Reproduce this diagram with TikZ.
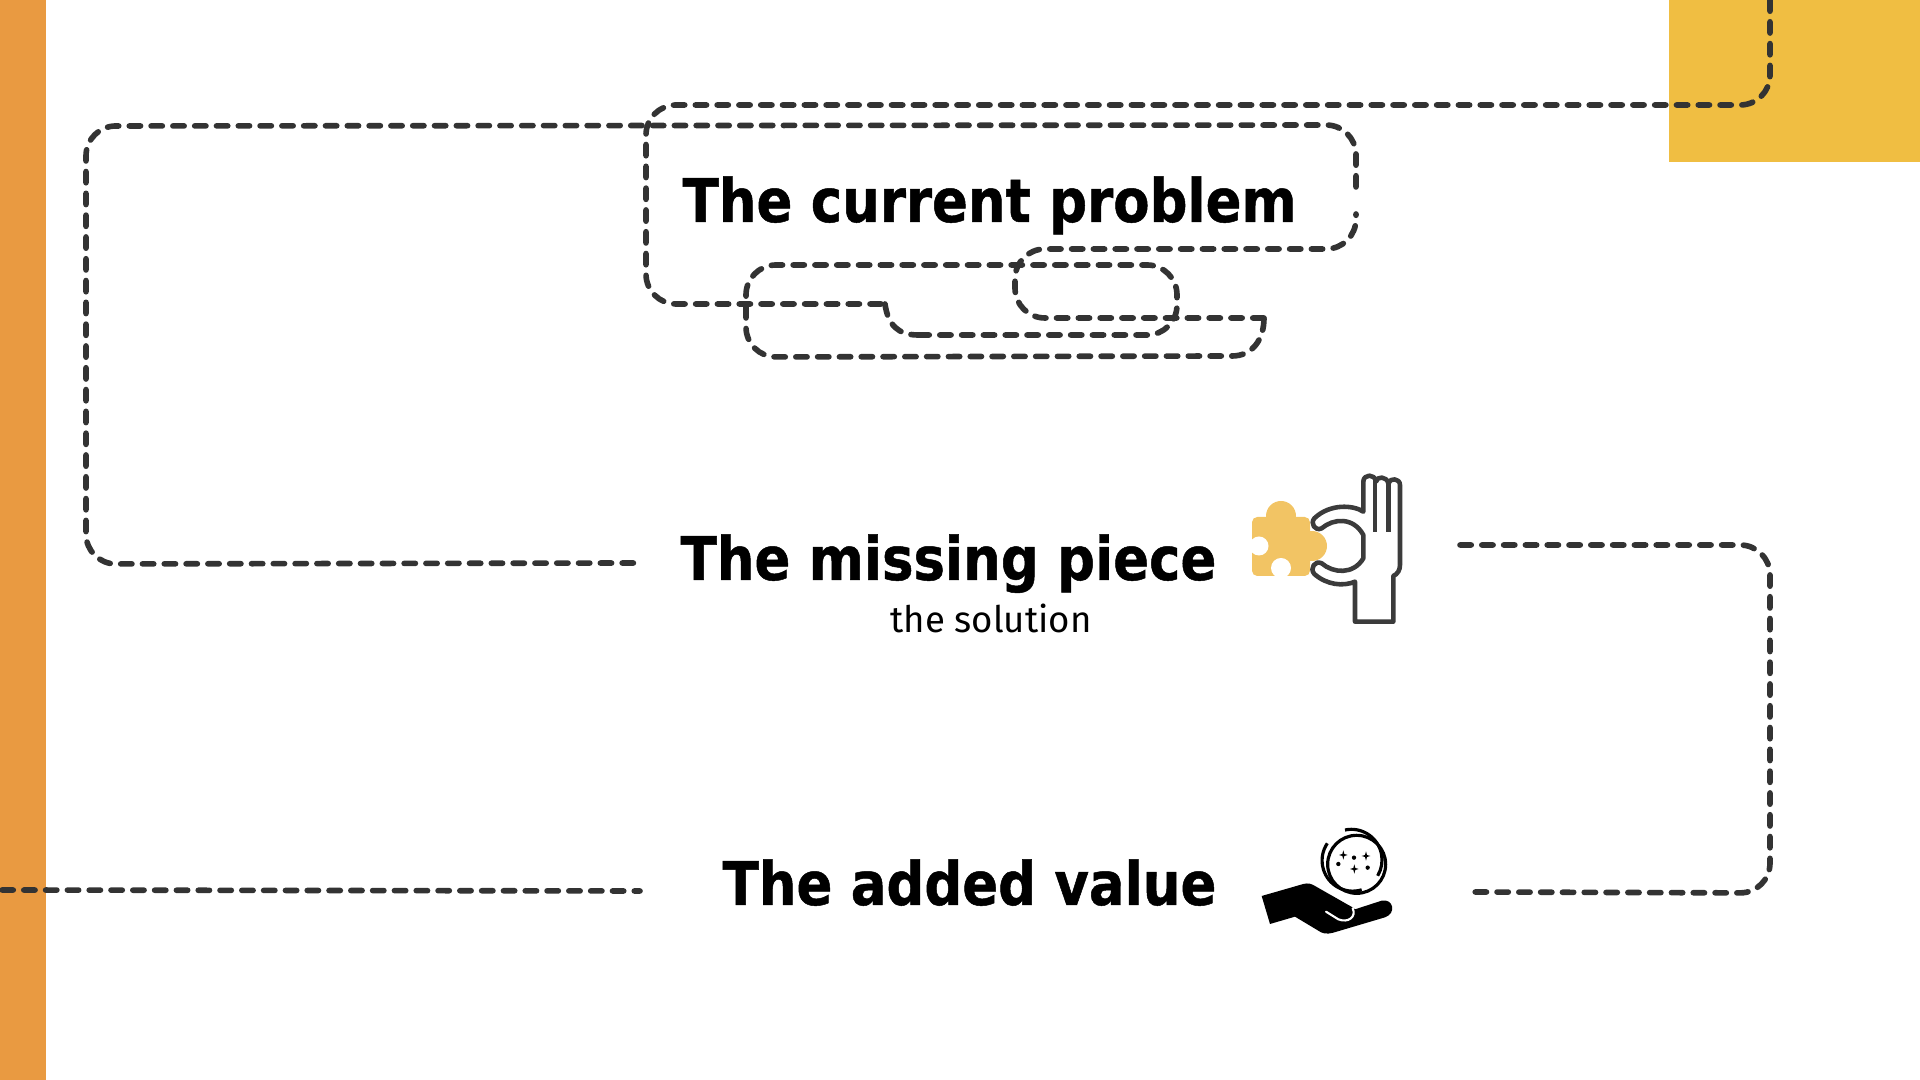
\documentclass[tikz,border=0pt]{standalone}
\usepackage{xcolor}
\usepackage{fontspec}
\setmainfont{DejaVu Sans}[FakeStretch=0.88, FakeBold=0.8]
\newfontfamily\subfont{Fira Sans}
\definecolor{barorange}{HTML}{E99A41}
\definecolor{boxyellow}{HTML}{F0BE42}
\definecolor{piecegold}{HTML}{F2C464}
\definecolor{inkdark}{HTML}{333333}
\definecolor{handgray}{HTML}{3B3B3B}

\begin{document}
\begin{tikzpicture}[x=0.01cm, y=-0.01cm]
        \tikzstyle{title} = [anchor=base west, inner sep=0pt, font=\fontsize{17.1}{20}\selectfont\bfseries]
        \tikzstyle{line} = [draw=inkdark, line width=1.6pt, line cap=round, dash pattern=on 3.2pt off 3pt, rounded corners=8.5pt]
        \tikzstyle{curveline} = [draw=inkdark, line width=1.6pt, line cap=round, dash pattern=on 3.2pt off 3pt]

        \useasboundingbox (0,0) rectangle (1920,1080);
        \fill [barorange] (0,0) rectangle (46,1080);
        \fill [boxyellow] (1669,0) rectangle (1920,162);

        \node [title] (problem) at (682,222) {The current problem};
        \node [title] (missing) at (680,580) {The missing piece};
        \node [anchor=base, inner sep=0pt, font=\subfont\fontsize{10.4}{12}\selectfont] (solution) at (991,633) {the solution};
        \node [title] (value) at (722,905) {The added value};

        \coordinate (topstart) at (1770,0);
        \coordinate (missingleft) at (638,563);
        \coordinate (missingright) at (1460,545);
        \coordinate (valueright) at (1475,892);
        \coordinate (valueleft) at (640,891);
        \coordinate (pagestart) at (2,890);
        \coordinate (stepa) at (885,304);
        \coordinate (stepb) at (918,335);
        \coordinate (stepc) at (1232,356);
        \coordinate (stepd) at (1264,318);

        % long line from the corner round the first title
        \path [line] (topstart) -- (1770,105) -- (646,105) -- (646,304) -- (stepa);
        \path [curveline] (stepa) .. controls (888,325) and (898,335) .. (stepb);
        \path [line] (stepb) -- (1177,335) -- (1177,265) -- (746,265) -- (746,357) -- (stepc);
        \path [curveline] (stepc) .. controls (1252,356) and (1264,340) .. (stepd);
        \path [line] (stepd) -- (1015,318) -- (1015,249) -- (1356,249) -- (1356,214);
        \path [line] (1356,187) -- (1356,125) -- (86,126) -- (86,564) -- (missingleft);
        \path [line] (missingright) -- (1770,545) -- (1770,893) -- (valueright);
        \path [line] (pagestart) -- (valueleft);

        % puzzle piece
        \fill [piecegold, rounded corners=1.5pt] (1252,517) rectangle (1310,576);
        \fill [piecegold] (1281,516) circle (15);
        \fill [piecegold] (1312,546) circle (15);
        \fill [white] (1259,546) circle (9.5);
        \fill [white] (1281,568) circle (10);

        % hand holding the piece
        \begin{scope}[shift={(1200,450)}, scale=1/3]
            \draw [handgray, line width=1.3pt, line join=round] (465,515) -- (580,515) -- (580,378) .. controls (593,372) and (600,360) .. (600,345) -- (600,105) .. controls (600,85) and (570,82) .. (565,100) .. controls (560,78) and (530,78) .. (528,95) .. controls (525,70) and (490,72) .. (490,95) -- (490,185) .. controls (460,165) and (390,160) .. (343,205) .. controls (330,220) and (345,245) .. (365,235) .. controls (400,205) and (460,200) .. (490,255) -- (490,325) .. controls (460,375) and (400,370) .. (365,340) .. controls (345,330) and (328,355) .. (343,372) .. controls (380,405) and (430,410) .. (465,395) -- cycle;
            \draw [handgray, line width=1.3pt] (525,245) -- (525,90);
            \draw [handgray, line width=1.3pt] (565,245) -- (565,100);
        \end{scope}

        % open hand with the coin
        \begin{scope}[shift={(1240,810)}, scale=1/3]
            \fill [black] (65,258) -- (190,222) .. controls (205,218) and (215,222) .. (225,228) -- (325,285) .. controls (335,290) and (342,295) .. (345,298) -- (425,272) .. controls (460,265) and (470,310) .. (435,322) -- (280,368) .. controls (260,374) and (245,370) .. (235,362) -- (165,320) -- (90,342) -- cycle;
            \draw [white, line width=0.6pt, line cap=round] (258,305) -- (295,328) .. controls (325,340) and (350,320) .. (338,295);
            \draw [black, line width=0.9pt] (350,163) circle (87);
            \draw [black, line width=0.9pt] (315,60) arc [start angle=-102, end angle=31, radius=92];
            \draw [black, line width=0.9pt] (262,100) arc [start angle=214, end angle=73, radius=92];
            \foreach \x/\y in {295/162, 342/143, 383/173} {
                \fill [black] (\x,\y) circle (6.5);
            }
            \foreach \x/\y in {310/135, 378/138, 343/177} {
                \fill [black] (\x,\y-14) -- (\x+3,\y-3) -- (\x+13,\y) -- (\x+3,\y+3) -- (\x,\y+14) -- (\x-3,\y+3) -- (\x-13,\y) -- (\x-3,\y-3) -- cycle;
            }
        \end{scope}
    \end{tikzpicture}
\end{document}
